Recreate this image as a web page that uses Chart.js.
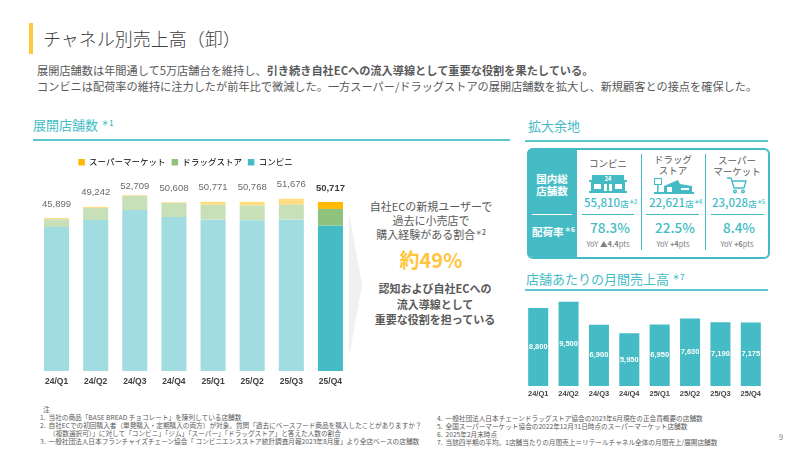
<!DOCTYPE html>
<html lang="ja">
<head>
<meta charset="utf-8">
<title>チャネル別売上高（卸）</title>
<script src="https://cdn.jsdelivr.net/npm/chart.js@4"></script>
<style>
  html, body { margin: 0; padding: 0; background: #fff; }
  body { position: relative; width: 800px; height: 451px; overflow: hidden; font-family: "Noto Sans CJK JP", "Noto Sans", sans-serif; color: #595959; }
  .t { position: absolute; white-space: nowrap; transform: translateY(-50%); line-height: 1; }
  .c { position: absolute; white-space: nowrap; transform: translate(-50%, -50%); line-height: 1; }
  .box { position: absolute; }
  sup { font-size: 0.62em; vertical-align: 0.55em; line-height: 0; font-weight: 500; }
  .head { font-size: 13px; color: #45BCC5; }
  .head sup { margin-left: 3px; }
  .rule { position: absolute; height: 2px; background: #5CC6CC; }
  .thin { position: absolute; height: 1px; background: #45BCC5; }
  .col { font-size: 9.5px; color: #595959; }
  .num { font-size: 11.5px; font-weight: 500; color: #45BCC5; }
  .num small { font-size: 8.5px; }
  .num sup { font-size: 6px; letter-spacing: -1px; }
  .pct { font-size: 13.5px; font-weight: 500; color: #45BCC5; }
  .yoy { font-size: 7.5px; color: #7f7f7f; }
  .lead { font-size: 11px; }
  .strong { font-size: 11px; font-weight: 700; }
  .note { font-size: 6.65px; color: #595959; }
  canvas { position: absolute; }
</style>
</head>
<body>
<div class="box" style="left:29px;top:23px;width:4px;height:31px;background:#FFC83D"></div>
<div class="t" style="left:43px;top:38px;font-size:18px;font-weight:300;color:#404040">チャネル別売上高（卸）</div>
<div class="t" style="left:37px;top:71px;font-size:11.2px">展開店舗数は年間通して5万店舗台を維持し、<b>引き続き自社ECへの流入導線として重要な役割を果たしている。</b></div>
<div class="t" style="left:37px;top:87px;font-size:11.2px">コンビニは配荷率の維持に注力したが前年比で微減した。一方スーパー/ドラッグストアの展開店舗数を拡大し、新規顧客との接点を確保した。</div>

<div class="t head" style="left:33px;top:124px">展開店舗数<sup>＊1</sup></div>
<div class="rule" style="left:33px;top:139px;width:477px"></div>
<div class="t head" style="left:528px;top:125px">拡大余地</div>
<div class="rule" style="left:525px;top:140px;width:243px"></div>

<canvas id="storeChart" width="329" height="248" style="left:21px;top:152px;width:329px;height:248px"></canvas>

<svg class="box" style="left:345px;top:205px" width="20" height="160"><polygon points="4,8 17,80 4,152" fill="#F0F0F0"/></svg>

<div class="c lead" style="left:431px;top:206px">自社ECの新規ユーザーで</div>
<div class="c lead" style="left:431px;top:220px">過去に小売店で</div>
<div class="c lead" style="left:431px;top:234px">購入経験がある割合<sup>＊2</sup></div>
<div class="c" style="left:431px;top:260px;font-size:20px;font-weight:700;color:#FFC53D">約49%</div>
<div class="c strong" style="left:435px;top:288px">認知および自社ECへの</div>
<div class="c strong" style="left:435px;top:304px">流入導線として</div>
<div class="c strong" style="left:435px;top:319px">重要な役割を担っている</div>

<!-- 拡大余地カード -->
<div class="box" style="left:527px;top:148px;width:239px;height:107px;border:2px solid #45BCC5;border-radius:6px"></div>
<div class="box" style="left:527px;top:148px;width:50px;height:109px;background:#45BCC5;border-radius:6px 0 0 6px"></div>
<div class="c" style="left:552px;top:179px;font-size:10.5px;font-weight:700;color:#fff">国内総</div>
<div class="c" style="left:552px;top:191px;font-size:10.5px;font-weight:700;color:#fff">店舗数</div>
<div class="box" style="left:532px;top:214px;width:40px;height:1px;background:#fff"></div>
<div class="t" style="left:532px;top:232px;font-size:10.5px;font-weight:700;color:#fff">配荷率<sup style="margin-left:1px;font-weight:700">＊6</sup></div>
<div class="box" style="left:641px;top:154px;width:1px;height:96px;background:#45BCC5"></div>
<div class="box" style="left:705px;top:154px;width:1px;height:96px;background:#45BCC5"></div>

<div class="c col" style="left:608px;top:164px">コンビニ</div>
<div class="c col" style="left:673px;top:160px">ドラッグ</div>
<div class="c col" style="left:673px;top:171px">ストア</div>
<div class="c col" style="left:737px;top:161px">スーパー</div>
<div class="c col" style="left:737px;top:172px">マーケット</div>

<svg class="box" style="left:589px;top:175px" width="38" height="18">
  <rect x="3" y="0" width="32" height="6" fill="#45BCC5"/>
  <rect x="0" y="5" width="38" height="2" fill="#45BCC5"/>
  <rect x="2" y="7" width="34" height="9" fill="#45BCC5"/>
  <rect x="5" y="9" width="7" height="5" fill="#fff"/>
  <rect x="15" y="9" width="3" height="7" fill="#fff"/>
  <rect x="20" y="9" width="3" height="7" fill="#fff"/>
  <rect x="26" y="9" width="7" height="5" fill="#fff"/>
  <rect x="0" y="16" width="38" height="2" fill="#45BCC5"/>
  <text x="19" y="5.5" font-size="5.5" font-weight="700" fill="#fff" text-anchor="middle">24</text>
</svg>
<svg class="box" style="left:654px;top:178px" width="40" height="16">
  <rect x="0.5" y="0.5" width="7" height="6" fill="#fff" stroke="#45BCC5"/>
  <rect x="3" y="7" width="1.5" height="7" fill="#45BCC5"/>
  <polygon points="10,8 24,2 26,6 38,8 38,14 10,14" fill="#45BCC5"/>
  <rect x="13" y="9" width="5" height="5" fill="#fff"/>
  <rect x="27" y="10" width="8" height="2" fill="#fff"/>
  <rect x="0" y="14" width="40" height="2" fill="#45BCC5"/>
</svg>
<svg class="box" style="left:727px;top:177px" width="20" height="17" fill="none" stroke="#45BCC5" stroke-width="1.4">
  <path d="M0 1h4l3 10h10l2-7H5"/>
  <circle cx="8" cy="14.5" r="1.3"/>
  <circle cx="16" cy="14.5" r="1.3"/>
</svg>

<div class="c num" style="left:610px;top:203px">55,810<small>店</small><sup>＊3</sup></div>
<div class="c num" style="left:675px;top:203px">22,621<small>店</small><sup>＊4</sup></div>
<div class="c num" style="left:738px;top:203px">23,028<small>店</small><sup>＊5</sup></div>
<div class="thin" style="left:582px;top:214px;width:52px"></div>
<div class="thin" style="left:646px;top:214px;width:53px"></div>
<div class="thin" style="left:711px;top:214px;width:53px"></div>
<div class="c pct" style="left:610px;top:228px">78.3%</div>
<div class="c pct" style="left:675px;top:228px">22.5%</div>
<div class="c pct" style="left:739px;top:228px">8.4%</div>
<div class="c yoy" style="left:608px;top:244px">YoY <b>▲4.4</b>pts</div>
<div class="c yoy" style="left:673px;top:244px">YoY <b>+4</b>pts</div>
<div class="c yoy" style="left:737px;top:244px">YoY <b>+6</b>pts</div>

<div class="t head" style="left:526px;top:278px">店舗あたりの月間売上高<sup>＊7</sup></div>
<div class="rule" style="left:525px;top:289px;width:243px"></div>
<canvas id="salesChart" width="243" height="110" style="left:523px;top:295px;width:243px;height:110px"></canvas>

<!-- 注 -->
<div class="t note" style="left:43px;top:409px">注</div>
<div class="t note" style="left:40px;top:417px">1.&nbsp; 当社の商品「BASE BREAD チョコレート」を陳列している店舗数</div>
<div class="t note" style="left:40px;top:425px">2.&nbsp; 自社ECでの初回購入者（単発購入・定期購入の両方）が対象。質問「過去にベースフード商品を購入したことがありますか？</div>
<div class="t note" style="left:49px;top:433px">（複数選択可）」に対して「コンビニ」「ジム」「スーパー」「ドラッグストア」と答えた人数の割合</div>
<div class="t note" style="left:40px;top:441px">3.&nbsp; 一般社団法人日本フランチャイズチェーン協会「 コンビニエンスストア統計調査月報2023年8月度」より全店ベースの店舗数</div>
<div class="t note" style="left:437px;top:418px">4.&nbsp; 一般社団法人日本チェーンドラッグストア協会の2023年6月現在の正会員概要の店舗数</div>
<div class="t note" style="left:437px;top:426px">5.&nbsp; 全国スーパーマーケット協会の2022年12月31日時点のスーパーマーケット店舗数</div>
<div class="t note" style="left:437px;top:434px">6.&nbsp; 2025年2月末時点</div>
<div class="t note" style="left:437px;top:442px">7.&nbsp; 当該四半期の平均。1店舗当たりの月間売上＝リテールチャネル全体の月間売上/展開店舗数</div>
<div class="c" style="left:781px;top:437px;font-size:8px;color:#8c8c8c">9</div>

<script>
// 展開店舗数
const quarters = ['24/Q1', '24/Q2', '24/Q3', '24/Q4', '25/Q1', '25/Q2', '25/Q3', '25/Q4'];
const conveni = [43200, 45300, 48300, 46200, 45400, 45200, 45400, 43600];
const drug = [2300, 3600, 4200, 4200, 4471, 4468, 4476, 5017];
const supermarket = [399, 342, 209, 208, 900, 1100, 1800, 2100];
const storeTotals = ['45,899', '49,242', '52,709', '50,608', '50,771', '50,768', '51,676', '50,717'];

// 店舗あたりの月間売上高
const monthlySales = [8800, 9500, 6900, 5950, 6950, 7630, 7190, 7175];

const latest = quarters.length - 1;
const JP_FONT = '"Noto Sans CJK JP", sans-serif';
const NUM_FONT = '"Liberation Sans", Arial, sans-serif';

// 最新四半期だけ濃い色にする
const barColors = (full, light) => quarters.map((q, i) => i === latest ? full : light);

// 凡例の高さを固定して、棒のスケールを安定させる
const fixedLegendHeight = {
  id: 'fixedLegendHeight',
  beforeInit(chart) {
    const fit = chart.legend.fit;
    chart.legend.fit = function () {
      fit.call(this);
      this.height = 28;
    };
  }
};

const totalLabels = {
  id: 'totalLabels',
  afterDatasetsDraw(chart) {
    const { ctx } = chart;
    const top = chart.getDatasetMeta(2).data;
    ctx.save();
    ctx.textAlign = 'center';
    ctx.textBaseline = 'middle';
    top.forEach((bar, i) => {
      ctx.font = (i === latest ? 'bold ' : '') + '9.5px ' + NUM_FONT;
      ctx.fillStyle = i === latest ? '#404040' : '#6b6b6b';
      ctx.fillText(storeTotals[i], bar.x, bar.y - (i === 2 ? 9 : 14));
    });
    ctx.restore();
  }
};

const valueLabels = {
  id: 'valueLabels',
  afterDatasetsDraw(chart) {
    const { ctx } = chart;
    ctx.save();
    ctx.textAlign = 'center';
    ctx.textBaseline = 'middle';
    ctx.font = 'bold 7.5px ' + NUM_FONT;
    ctx.fillStyle = '#fff';
    chart.getDatasetMeta(0).data.forEach((bar, i) => {
      ctx.fillText(monthlySales[i].toLocaleString('en-US'), bar.x, (bar.y + bar.base) / 2);
    });
    ctx.restore();
  }
};

new Chart(document.getElementById('storeChart'), {
  type: 'bar',
  data: {
    labels: quarters,
    datasets: [
      { label: 'コンビニ', data: conveni, backgroundColor: barColors('#45BCC5', '#A0DCE0') },
      { label: 'ドラッグストア', data: drug, backgroundColor: barColors('#8FC27C', '#C7E0B8') },
      { label: 'スーパーマーケット', data: supermarket, backgroundColor: barColors('#FFB900', '#FFDC80') }
    ]
  },
  options: {
    responsive: false,
    animation: false,
    layout: { padding: 0 },
    datasets: { bar: { categoryPercentage: 1, barPercentage: 0.64 } },
    plugins: {
      tooltip: { enabled: false },
      legend: {
        position: 'top',
        labels: {
          boxWidth: 6.5,
          boxHeight: 6.5,
          padding: 6,
          color: '#6b6b6b',
          font: { family: JP_FONT, size: 8.5 },
          generateLabels: () => [
            { text: 'スーパーマーケット', fillStyle: '#FFB900', strokeStyle: '#FFB900', lineWidth: 0, datasetIndex: 2 },
            { text: 'ドラッグストア', fillStyle: '#8FC27C', strokeStyle: '#8FC27C', lineWidth: 0, datasetIndex: 1 },
            { text: 'コンビニ', fillStyle: '#45BCC5', strokeStyle: '#45BCC5', lineWidth: 0, datasetIndex: 0 }
          ]
        }
      }
    },
    scales: {
      x: {
        stacked: true,
        grid: { display: false, drawTicks: false },
        border: { display: false },
        afterFit(scale) { scale.height = 29; },
        ticks: { color: '#404040', padding: 6, maxRotation: 0, font: { family: NUM_FONT, size: 8.5, weight: 'bold' } }
      },
      y: {
        stacked: true,
        min: 0,
        max: 57300,
        grid: { display: false },
        border: { display: false },
        ticks: { display: false },
        afterFit(scale) { scale.width = 16; }
      }
    }
  },
  plugins: [fixedLegendHeight, totalLabels]
});

new Chart(document.getElementById('salesChart'), {
  type: 'bar',
  data: {
    labels: quarters,
    datasets: [{ data: monthlySales, backgroundColor: '#45BCC5' }]
  },
  options: {
    responsive: false,
    animation: false,
    layout: { padding: 0 },
    datasets: { bar: { categoryPercentage: 1, barPercentage: 0.66 } },
    plugins: { legend: { display: false }, tooltip: { enabled: false } },
    scales: {
      x: {
        grid: { display: false, drawTicks: false },
        border: { display: false },
        afterFit(scale) { scale.height = 19; },
        ticks: { color: '#404040', padding: 3, maxRotation: 0, font: { family: NUM_FONT, size: 7.5, weight: 'bold' } }
      },
      y: { display: false, min: 0, max: 10270 }
    }
  },
  plugins: [valueLabels]
});
</script>
</body>
</html>
